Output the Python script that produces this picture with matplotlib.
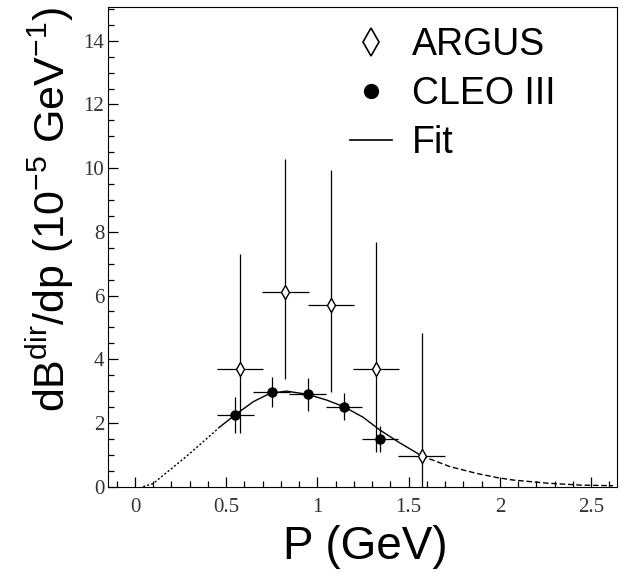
import matplotlib.pyplot as plt
from matplotlib.lines import Line2D
from matplotlib.ticker import MultipleLocator

plt.rcParams['font.family'] = ['Liberation Sans', 'DejaVu Sans']
plt.rcParams['mathtext.fontset'] = 'custom'
plt.rcParams['mathtext.rm'] = 'Liberation Sans'
plt.rcParams['mathtext.it'] = 'Liberation Sans:italic'

# ARGUS points (open diamonds)
argus_p = [0.575, 0.824, 1.074, 1.32, 1.571]
argus_y = [3.69, 6.10, 5.70, 3.69, 0.97]
argus_lo = [2.0, 2.72, 2.72, 2.6, 3.85]
argus_hi = [3.62, 4.2, 4.25, 4.0, 3.85]
argus_dp = [0.126, 0.128, 0.125, 0.127, 0.127]

# CLEO III points (filled circles)
cleo_p = [0.55, 0.749, 0.946, 1.145, 1.342]
cleo_y = [2.25, 2.97, 2.90, 2.51, 1.50]
cleo_lo = [0.57, 0.46, 0.52, 0.42, 0.40]
cleo_hi = [0.58, 0.48, 0.50, 0.42, 0.42]
cleo_dp = [0.10, 0.102, 0.10, 0.098, 0.10]

# fit curve
fit_p = [0.045, 0.10, 0.19, 0.28, 0.374, 0.466, 0.548, 0.649, 0.74, 0.83,
         0.946, 1.05, 1.145, 1.25, 1.342, 1.45, 1.571, 1.726, 1.87, 1.98,
         2.07, 2.26, 2.44, 2.62]
fit_y = [0.0, 0.10, 0.52, 0.94, 1.41, 1.88, 2.25, 2.67, 2.93, 3.00,
         2.90, 2.72, 2.51, 2.18, 1.78, 1.38, 0.97, 0.63, 0.42, 0.29,
         0.21, 0.11, 0.05, 0.03]

fig = plt.figure(figsize=(6.25, 5.75), dpi=100)
ax = fig.add_axes([0.1733, 0.1536, 0.8134, 0.8337])

# fit: dotted / solid / dashed parts
ax.plot(fit_p[:6], fit_y[:6], color='black', lw=1.0, ls=(0, (1.5, 1.5)))
ax.plot(fit_p[5:17], fit_y[5:17], color='black', lw=1.0)
ax.plot(fit_p[16:], fit_y[16:], color='black', lw=1.0, ls=(0, (4, 2)))

ax.errorbar(argus_p, argus_y, yerr=[argus_lo, argus_hi], xerr=argus_dp,
            fmt='d', ms=7.6, mfc='white', mec='black', mew=1.0,
            ecolor='black', elinewidth=0.9, capsize=0, zorder=3)
ax.errorbar(cleo_p, cleo_y, yerr=[cleo_lo, cleo_hi], xerr=cleo_dp,
            fmt='o', ms=6.5, mfc='black', mec='black',
            ecolor='black', elinewidth=0.9, capsize=0, zorder=4)

ax.set_xlim(-0.146, 2.64)
ax.set_ylim(0, 15.05)
ax.xaxis.set_major_locator(MultipleLocator(0.5))
ax.xaxis.set_minor_locator(MultipleLocator(0.1))
ax.yaxis.set_major_locator(MultipleLocator(2))
ax.yaxis.set_minor_locator(MultipleLocator(0.5))
ax.set_xticks([0, 0.5, 1, 1.5, 2, 2.5])
ax.set_xticklabels(['0', '0.5', '1', '1.5', '2', '2.5'])
ax.tick_params(which='both', direction='in', top=False, right=False,
               labelsize=15, labelcolor='#333333')
ax.tick_params(which='major', length=7.5, width=0.9)
ax.tick_params(which='minor', length=4, width=0.9)
ax.tick_params(axis='x', pad=8)
ax.tick_params(axis='y', pad=3)
for lab in ax.get_xticklabels() + ax.get_yticklabels():
    lab.set_family('Liberation Serif')

ax.set_xlabel('P (GeV)', fontsize=33, va='center')
ax.xaxis.set_label_coords(0.505, -0.126)
ax.set_ylabel(r'dB$^{\rm dir}$/dp (10$^{-5}$ GeV$^{-1}$)', fontsize=31, va='center')
ax.yaxis.set_label_coords(-0.115, 0.577)

handles = [
    Line2D([], [], marker='d', ls='none', ms=14, mfc='white', mec='black', mew=1.2),
    Line2D([], [], marker='o', ls='none', ms=10, mfc='black', mec='black'),
    Line2D([], [], color='black', lw=1.2),
]
ax.legend(handles, ['ARGUS', 'CLEO III', 'Fit'], loc='upper left',
          bbox_to_anchor=(350 / 625, 1 - 27 / 575), bbox_transform=fig.transFigure,
          frameon=False, fontsize=27, handlelength=1.11, handletextpad=0.53,
          labelspacing=0.35, borderpad=0, borderaxespad=0)

fig.savefig('out.png', dpi=100)
